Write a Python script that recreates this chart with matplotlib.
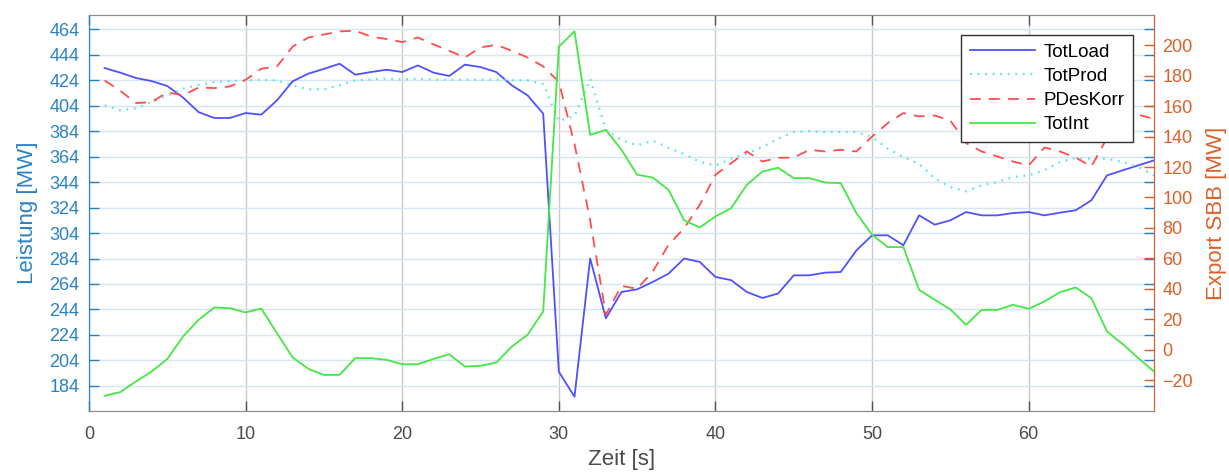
import matplotlib
matplotlib.use("Agg")
import matplotlib.pyplot as plt
import numpy as np

plt.rcParams['font.family'] = ['Liberation Sans', 'DejaVu Sans']

# ---- data ----
t = list(range(1, 69))

tot_load = [433.6, 430, 425.8, 423.4, 419.5, 410.5, 399, 394.4, 394.4, 398.3,
            397, 408.2, 423.2, 429.2, 433, 437, 428.4, 430.5, 432.3, 430.5,
            435.7, 430, 427.4, 436.3, 434.4, 430.5, 420, 412.2, 397.8, 195,
            175.4, 284, 237, 257.7, 259.8, 265.6, 272.1, 284, 281.3, 269.5,
            267, 257.7, 253, 256.5, 270.8, 270.8, 272.9, 273.4, 290.4, 302.2,
            302.2, 294.4, 317.9, 310.6, 314, 320.5, 317.9, 317.9, 319.7, 320.5,
            317.9, 320, 321.9, 329.7, 349.3, 353.3, 357.2, 361.1]

tot_prod = [404.3, 400.4, 402, 406.9, 412, 417.4, 420.4, 422.6, 423.4, 423.9,
            424.5, 423.9, 420, 416.9, 416.9, 420, 423.9, 424.7, 425.3, 424.5,
            425.3, 424.5, 424.5, 424.5, 424.5, 424.5, 424, 424, 421, 392,
            396, 425, 385, 377, 373, 376.5, 371, 366, 360, 357,
            362.4, 366.4, 371.6, 378.1, 383.4, 384, 383.4, 383.4, 383.4, 379.4,
            370.3, 363.7, 358.5, 346.8, 340.2, 336.8, 341.5, 344.1, 348, 349.3,
            353.3, 359.8, 363, 362.4, 362.4, 359.8, 355.9, 349.3]

pdes_korr = [176.8, 170, 162, 162.6, 169.1, 167, 172.2, 171.8, 172.9, 177.2,
             184.5, 186, 199, 205, 207, 209, 209.5, 205.6, 204, 202,
             205, 200.5, 196.3, 191.9, 198.5, 200.2, 196.3, 191.9, 186, 176,
             135, 85, 23, 42, 40, 51.4, 68.9, 79.8, 95.2, 114.9,
             122.5, 130.2, 123.6, 126, 126.2, 131.3, 130.2, 131.3, 130.2, 140,
             148.8, 155.4, 153.2, 153.8, 150.5, 135.7, 130.2, 126.9, 123.6, 121,
             132.8, 130.2, 126.2, 120.3, 139, 154.3, 154.3, 151.6]

tot_int = [-30.2, -27.8, -20.8, -14.3, -6, 8.7, 19.7, 27.8, 27.3, 24.5,
           27.1, 10.9, -5, -12.5, -16.5, -16.5, -5.5, -5.5, -6.6, -9.5,
           -9.5, -6, -2.9, -11, -10.5, -8.4, 2.1, 9.8, 25.1, 199.1,
           209, 141.1, 144.4, 131.3, 114.9, 113.1, 105, 85, 80.3, 87.5,
           93, 108.3, 117, 119.5, 112.7, 112.7, 109.8, 109.4, 89.7, 75.5,
           67.4, 67.4, 39.4, 32.8, 26.5, 16.4, 26.2, 26.2, 29.5, 26.9,
           31.7, 37.8, 40.9, 33.9, 12, 3.7, -5.5, -14.3]

x_ticks = [0, 10, 20, 30, 40, 50, 60]
left_ticks = list(range(184, 465, 20))
right_ticks = list(range(-20, 201, 20))
labels = ['TotLoad', 'TotProd', 'PDesKorr', 'TotInt']

# ---- style ----
W, H = 1229, 475
left_c = '#2a82c6'
right_c = '#de5f28'
gray = '#4a4a4a'

fig = plt.figure(figsize=(W / 100, H / 100), dpi=100)
ax = fig.add_axes([89 / W, 1 - 411 / H, (1154 - 89) / W, (411 - 15) / H])
ax2 = ax.twinx()

l1, = ax.plot(t, tot_load, color='#5050ff', lw=1.3, label=labels[0], zorder=3)
l2, = ax.plot(t, tot_prod, color='#55e6ee', lw=1.6, ls=(0, (0.8, 2.6)),
              label=labels[1], zorder=3)
l3, = ax2.plot(t, pdes_korr, color='#ff4d4d', lw=1.3, ls=(0, (6, 4.5)),
               label=labels[2], zorder=3)
l4, = ax2.plot(t, tot_int, color='#46e646', lw=1.3, label=labels[3], zorder=3)

ax.set_xlim(0, 68)
ax.set_ylim(164.2, 475.3)
ax2.set_ylim(-40.2, 219.8)
ax.set_xticks(x_ticks)
ax.set_yticks(left_ticks)
ax2.set_yticks(right_ticks)

ax.set_axisbelow(True)
ax.yaxis.grid(True, color='#d6e5f2', lw=1.0)
ax.xaxis.grid(True, color='#cbcbcb', lw=1.0)

ax.tick_params(axis='y', direction='in', length=7, width=1, colors=left_c,
               right=True, labelright=False, labelsize=13, pad=7)
ax2.tick_params(axis='y', direction='in', length=7, width=1, colors=right_c,
                labelsize=13, pad=6)
ax.tick_params(axis='x', direction='in', length=7, width=1, colors='#555555',
               top=True, labelsize=13, pad=10.5, labelcolor=gray)

for a in (ax, ax2):
    a.spines['top'].set_color('#8c8c8c')
    a.spines['bottom'].set_color('#8c8c8c')
ax.spines['left'].set_color(left_c)
ax2.spines['left'].set_color(left_c)
ax.spines['right'].set_color(right_c)
ax2.spines['right'].set_color(right_c)

ax.set_ylabel('Leistung [MW]', color=left_c, fontsize=16)
ax.yaxis.set_label_coords(-0.048, 0.5)
ax2.set_ylabel('Export SBB [MW]', color=right_c, fontsize=16)
ax2.yaxis.set_label_coords(1.0488, 0.5)
ax.set_xlabel('Zeit [s]', color=gray, fontsize=16)
ax.xaxis.set_label_coords(0.5, -0.096)

leg = ax2.legend(handles=[l1, l2, l3, l4], loc='upper right',
                 bbox_to_anchor=(1133 / W, 1 - 35 / H),
                 bbox_transform=fig.transFigure, fontsize=13.5,
                 frameon=True, fancybox=False, framealpha=1,
                 edgecolor='#303030', handlelength=3.5, handletextpad=0.45,
                 labelspacing=0.38, borderpad=0.45, borderaxespad=0)
leg.get_frame().set_linewidth(1.0)

fig.savefig('out.png', dpi=100)
